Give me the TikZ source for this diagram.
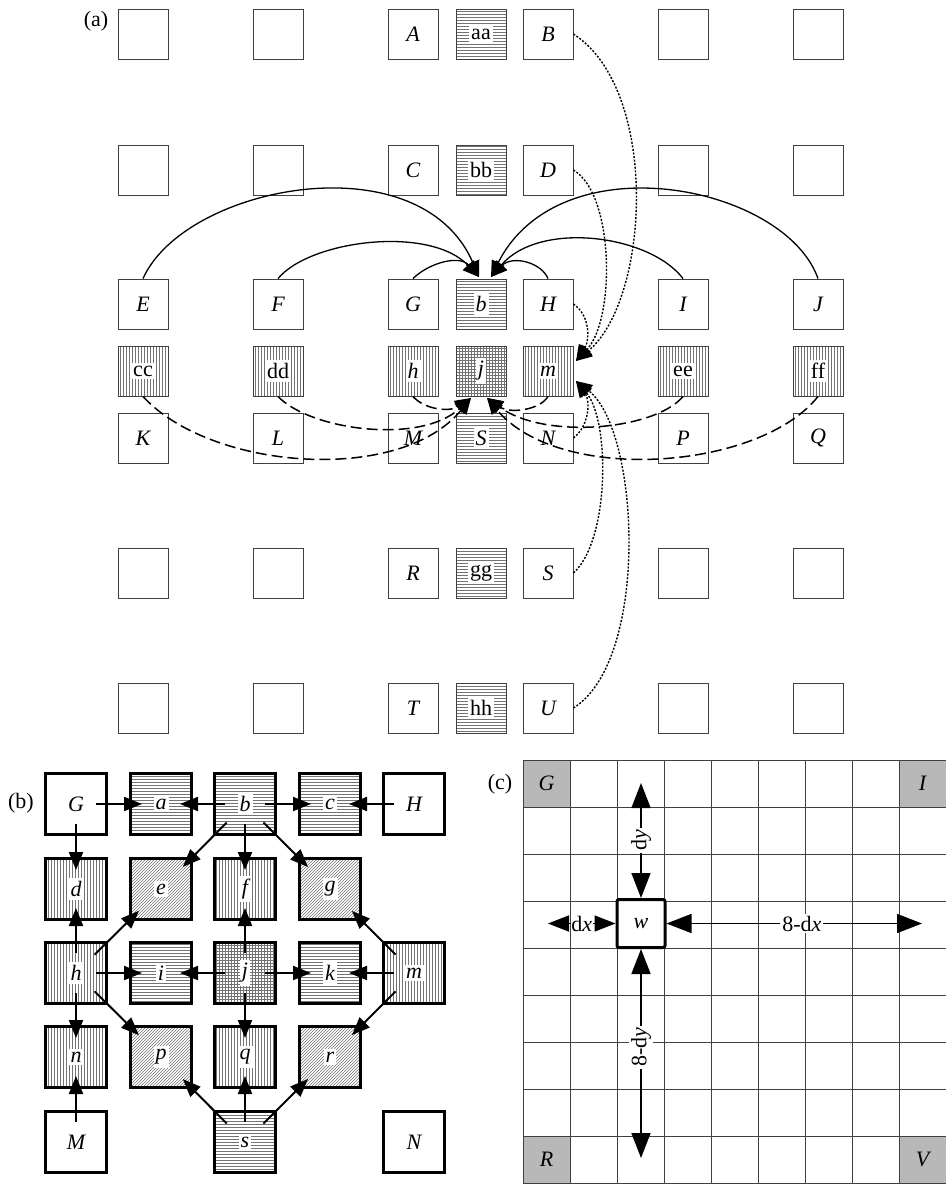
\documentclass[tikz,border=0pt]{standalone}
\usepackage{fontspec}
\setmainfont{Liberation Serif}
\usetikzlibrary{patterns,arrows.meta}
\begin{document}
\begin{tikzpicture}[x=1pt,y=-1pt,
  every node/.style={font=\fontsize{22}{25}\selectfont},
  wl/.style={fill=white, inner xsep=2pt, inner ysep=3pt},
  abox/.style={draw=black!75, line width=0.9pt, minimum size=50pt, inner sep=0pt, rectangle},
  bbox/.style={draw=black, line width=2.6pt, minimum size=61pt, inner sep=0pt, rectangle},
  hl/.style={pattern=horizontal lines, pattern color=black!55},
  vl/.style={pattern=vertical lines, pattern color=black!55},
  gr/.style={pattern=grid, pattern color=black!55},
  dg/.style={pattern=north east lines, pattern color=black!55},
  atip/.style={-{Triangle[length=16pt,width=14pt]}},
  solidarr/.style={atip, line width=1.3pt},
  dotarr/.style={atip, line width=1.4pt, dash pattern=on 2pt off 1.6pt},
  dasharr/.style={atip, line width=1.5pt, dash pattern=on 11pt off 5pt},
  barr/.style={-{Triangle[length=18pt,width=14pt]}, line width=2pt},
  orth/.style={shorten <=20pt, shorten >=19pt},
  diag/.style={shorten <=26pt, shorten >=31pt},
  gline/.style={draw=black!75, line width=1pt},
  cbox/.style={fill=black!28, minimum size=47pt, inner sep=0pt},
  carr/.style={{Triangle[length=25pt,width=19pt]}-{Triangle[length=25pt,width=19pt]}, line width=1.6pt},
  carrs/.style={{Triangle[length=21pt,width=16pt]}-{Triangle[length=21pt,width=16pt]}, line width=1.6pt},
  clab/.style={fill=white, inner sep=2pt}
]
\useasboundingbox (0,0) rectangle (945,1191);

% ---------------- (a) ----------------
\node (la) at (96,21) {(a)};
% row 1
\node[abox] (a11) at (143,34) {};
\node[abox] (a12) at (278,34) {};
\node[abox] (A) at (413,34) {\itshape A};
\node[abox,hl,label={[wl]center:aa}] (aa) at (481,34) {};
\node[abox] (B) at (548,34) {\itshape B};
\node[abox] (a16) at (683,34) {};
\node[abox] (a17) at (818,34) {};
% row 2
\node[abox] (a21) at (143,170) {};
\node[abox] (a22) at (278,170) {};
\node[abox] (C) at (413,170) {\itshape C};
\node[abox,hl,label={[wl]center:bb}] (bb) at (481,170) {};
\node[abox] (D) at (548,170) {\itshape D};
\node[abox] (a26) at (683,170) {};
\node[abox] (a27) at (818,170) {};
% row 3
\node[abox] (E) at (143,304) {\itshape E};
\node[abox] (F) at (278,304) {\itshape F};
\node[abox] (G) at (413,304) {\itshape G};
\node[abox,hl,label={[wl]center:\itshape b}] (b) at (481,304) {};
\node[abox] (H) at (548,304) {\itshape H};
\node[abox] (I) at (683,304) {\itshape I};
\node[abox] (J) at (818,304) {\itshape J};
% row 4
\node[abox,vl,label={[wl]center:cc}] (cc) at (143,371) {};
\node[abox,vl,label={[wl]center:dd}] (dd) at (278,371) {};
\node[abox,vl,label={[wl]center:\itshape h}] (h) at (413,371) {};
\node[abox,gr,label={[wl]center:\itshape j}] (j) at (481,371) {};
\node[abox,vl,label={[wl]center:\itshape m}] (m) at (548,371) {};
\node[abox,vl,label={[wl]center:ee}] (ee) at (683,371) {};
\node[abox,vl,label={[wl]center:ff}] (ff) at (818,371) {};
% row 5
\node[abox] (K) at (143,438) {\itshape K};
\node[abox] (L) at (278,438) {\itshape L};
\node[abox] (M) at (413,438) {\itshape M};
\node[abox,hl,label={[wl]center:\itshape S}] (S5) at (481,438) {};
\node[abox] (N) at (548,438) {\itshape N};
\node[abox] (P) at (683,438) {\itshape P};
\node[abox] (Q) at (818,438) {\itshape Q};
% row 6
\node[abox] (a61) at (143,573) {};
\node[abox] (a62) at (278,573) {};
\node[abox] (R) at (413,573) {\itshape R};
\node[abox,hl,label={[wl]center:gg}] (gg) at (481,573) {};
\node[abox] (S6) at (548,573) {\itshape S};
\node[abox] (a66) at (683,573) {};
\node[abox] (a67) at (818,573) {};
% row 7
\node[abox] (a71) at (143,708) {};
\node[abox] (a72) at (278,708) {};
\node[abox] (T) at (413,708) {\itshape T};
\node[abox,hl,label={[wl]center:hh}] (hh) at (481,708) {};
\node[abox] (U) at (548,708) {\itshape U};
\node[abox] (a76) at (683,708) {};
\node[abox] (a77) at (818,708) {};

% targets
\coordinate (bL) at (479,277);
\coordinate (bR) at (491,277);
\coordinate (mU) at (576,361);
\coordinate (mD) at (576,381);
\coordinate (jL) at (471,398);
\coordinate (jR) at (487,398);

% solid arcs to b
\draw[solidarr] (E.north) .. controls (185,185) and (420,140) .. (bL);
\draw[solidarr] (F.north) .. controls (310,240) and (430,225) .. (bL);
\draw[solidarr] (G.north) .. controls (430,262) and (460,255) .. (bL);
\draw[solidarr] (H.north) .. controls (541,262) and (512,255) .. (bR);
\draw[solidarr] (I.north) .. controls (650,235) and (540,220) .. (bR);
\draw[solidarr] (J.north) .. controls (785,185) and (560,140) .. (bR);

% dotted arcs to m
\draw[dotarr] (B.east) .. controls (660,90) and (650,300) .. (mU);
\draw[dotarr] (D.east) .. controls (615,195) and (615,320) .. (mU);
\draw[dotarr] (H.east) .. controls (590,315) and (590,340) .. (mU);
\draw[dotarr] (N.east) .. controls (590,425) and (590,400) .. (mD);
\draw[dotarr] (S6.east) .. controls (610,540) and (610,420) .. (mD);
\draw[dotarr] (U.east) .. controls (650,660) and (640,430) .. (mD);

% dashed arcs to j
\draw[dasharr] (cc.south) .. controls (210,470) and (400,485) .. (jL);
\draw[dasharr] (dd.south) .. controls (310,430) and (420,445) .. (jL);
\draw[dasharr] (h.south) .. controls (425,410) and (450,412) .. (jL);
\draw[dasharr] (m.south) .. controls (540,410) and (510,414) .. (jR);
\draw[dasharr] (ee.south) .. controls (655,430) and (545,440) .. (jR);
\draw[dasharr] (ff.south) .. controls (760,470) and (560,485) .. (jR);

% ---------------- (b) ----------------
\node (lb) at (21,803) {(b)};
\node[bbox] (bG) at (76,804) {\itshape G};
\node[bbox,hl,label={[wl]center:\itshape a}] (ba) at (161,804) {};
\node[bbox,hl,label={[wl]center:\itshape b}] (bb2) at (245,804) {};
\node[bbox,hl,label={[wl]center:\itshape c}] (bc) at (330,804) {};
\node[bbox] (bH) at (414,804) {\itshape H};
\node[bbox,vl,label={[wl]center:\itshape d}] (bd) at (76,889) {};
\node[bbox,dg,label={[wl]center:\itshape e}] (be) at (161,889) {};
\node[bbox,vl,label={[wl]center:\itshape f}] (bf) at (245,889) {};
\node[bbox,dg,label={[wl]center:\itshape g}] (bg) at (330,889) {};
\node[bbox,vl,label={[wl]center:\itshape h}] (bh) at (76,973) {};
\node[bbox,hl,label={[wl]center:\itshape i}] (bi) at (161,973) {};
\node[bbox,gr,label={[wl]center:\itshape j}] (bj) at (245,973) {};
\node[bbox,hl,label={[wl]center:\itshape k}] (bk) at (330,973) {};
\node[bbox,vl,label={[wl]center:\itshape m}] (bm) at (414,973) {};
\node[bbox,vl,label={[wl]center:\itshape n}] (bn) at (76,1057) {};
\node[bbox,dg,label={[wl]center:\itshape p}] (bp) at (161,1057) {};
\node[bbox,vl,label={[wl]center:\itshape q}] (bq) at (245,1057) {};
\node[bbox,dg,label={[wl]center:\itshape r}] (br) at (330,1057) {};
\node[bbox] (bM) at (76,1142) {\itshape M};
\node[bbox,hl,label={[wl]center:\itshape s}] (bs) at (245,1142) {};
\node[bbox] (bN) at (414,1142) {\itshape N};

\draw[barr,orth] (bG.center) -- (ba.center);
\draw[barr,orth] (bb2.center) -- (ba.center);
\draw[barr,orth] (bb2.center) -- (bc.center);
\draw[barr,orth] (bH.center) -- (bc.center);
\draw[barr,orth] (bG.center) -- (bd.center);
\draw[barr,diag] (bb2.center) -- (be.center);
\draw[barr,orth] (bb2.center) -- (bf.center);
\draw[barr,diag] (bb2.center) -- (bg.center);
\draw[barr,orth] (bh.center) -- (bd.center);
\draw[barr,diag] (bh.center) -- (be.center);
\draw[barr,orth] (bj.center) -- (bf.center);
\draw[barr,diag] (bm.center) -- (bg.center);
\draw[barr,orth] (bh.center) -- (bi.center);
\draw[barr,orth] (bj.center) -- (bi.center);
\draw[barr,orth] (bj.center) -- (bk.center);
\draw[barr,orth] (bm.center) -- (bk.center);
\draw[barr,orth] (bh.center) -- (bn.center);
\draw[barr,diag] (bh.center) -- (bp.center);
\draw[barr,orth] (bj.center) -- (bq.center);
\draw[barr,diag] (bm.center) -- (br.center);
\draw[barr,orth] (bM.center) -- (bn.center);
\draw[barr,diag] (bs.center) -- (bp.center);
\draw[barr,orth] (bs.center) -- (bq.center);
\draw[barr,diag] (bs.center) -- (br.center);

% ---------------- (c) ----------------
\node (lc) at (500,784) {(c)};
\node[cbox] (cG) at (546.5,783.5) {\itshape G};
\node[cbox] (cI) at (922.5,783.5) {\itshape I};
\node[cbox] (cR) at (546.5,1159.5) {\itshape R};
\node[cbox] (cV) at (922.5,1159.5) {\itshape V};
\foreach \i in {0,...,9} {
  \draw[gline] (523+47*\i,760) -- (523+47*\i,1183);
  \draw[gline] (523,760+47*\i) -- (946,760+47*\i);
}
\node[draw, line width=3pt, rounded corners=2pt, fill=white, minimum size=48pt, inner sep=0pt] (w) at (641,923.5) {\itshape w};
\coordinate (dyT) at (641,783);
\coordinate (dyB) at (641,1158);
\coordinate (dxL) at (548,923.5);
\coordinate (dxR) at (922,923.5);
\draw[carr] (dyT) -- node[clab, rotate=90] {d\textit{y}} (w.north);
\draw[carr] (w.south) -- node[clab, rotate=90, pos=0.47] {8-d\textit{y}} (dyB);
\draw[carrs] (dxL) -- node[clab, inner sep=0.5pt] {d\textit{x}} (w.west);
\draw[carr] (w.east) -- node[clab, pos=0.53] {8-d\textit{x}} (dxR);
\end{tikzpicture}
\end{document}
